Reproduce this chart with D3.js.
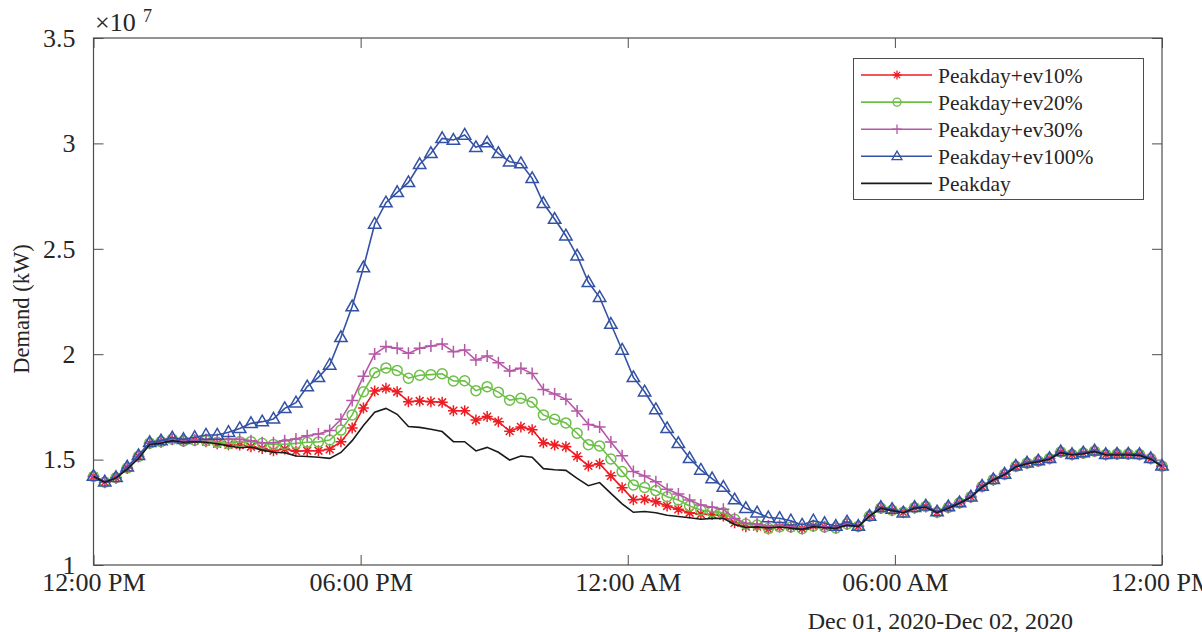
<!DOCTYPE html>
<html>
<head>
<meta charset="utf-8">
<script src="https://cdn.jsdelivr.net/npm/d3@7"></script>
<style>
  body { margin: 0; background: #fff; }
  svg text { font-family: "Liberation Serif", "Times New Roman", serif; fill: #262626; }
</style>
</head>
<body>
<div id="chart"></div>
<script>
// demand, in units of 1e7 kW, 96 samples from 12:00 PM Dec 01 to 12:00 PM Dec 02
var ev10 = [1.420, 1.393, 1.414, 1.460, 1.515, 1.578, 1.585, 1.597, 1.588, 1.592,
  1.585, 1.575, 1.570, 1.569, 1.561, 1.553, 1.542, 1.550, 1.540, 1.542,
  1.542, 1.549, 1.585, 1.650, 1.745, 1.825, 1.838, 1.822, 1.775, 1.778,
  1.775, 1.772, 1.732, 1.732, 1.688, 1.704, 1.680, 1.635, 1.655, 1.642,
  1.580, 1.569, 1.561, 1.515, 1.470, 1.480, 1.423, 1.367, 1.310, 1.312,
  1.300, 1.280, 1.264, 1.248, 1.241, 1.240, 1.233, 1.200, 1.182, 1.182,
  1.171, 1.180, 1.180, 1.172, 1.185, 1.180, 1.176, 1.195, 1.183, 1.232,
  1.270, 1.260, 1.250, 1.272, 1.278, 1.250, 1.273, 1.295, 1.323, 1.372,
  1.405, 1.430, 1.468, 1.483, 1.493, 1.505, 1.536, 1.524, 1.531, 1.540,
  1.524, 1.526, 1.526, 1.524, 1.505, 1.469];

var ev20 = [1.420, 1.393, 1.414, 1.460, 1.515, 1.578, 1.585, 1.597, 1.588, 1.592,
  1.590, 1.582, 1.577, 1.585, 1.585, 1.577, 1.572, 1.573, 1.577, 1.582,
  1.584, 1.593, 1.640, 1.712, 1.822, 1.912, 1.935, 1.923, 1.886, 1.900,
  1.903, 1.907, 1.873, 1.874, 1.827, 1.846, 1.820, 1.782, 1.791, 1.772,
  1.712, 1.691, 1.674, 1.625, 1.571, 1.565, 1.503, 1.443, 1.380, 1.368,
  1.353, 1.324, 1.308, 1.280, 1.261, 1.253, 1.248, 1.217, 1.194, 1.190,
  1.174, 1.182, 1.180, 1.172, 1.185, 1.180, 1.176, 1.195, 1.183, 1.232,
  1.270, 1.260, 1.250, 1.272, 1.278, 1.250, 1.273, 1.295, 1.323, 1.372,
  1.405, 1.430, 1.468, 1.483, 1.493, 1.505, 1.536, 1.524, 1.531, 1.540,
  1.524, 1.526, 1.526, 1.524, 1.505, 1.469];

var ev30 = [1.420, 1.393, 1.414, 1.460, 1.515, 1.578, 1.585, 1.597, 1.588, 1.592,
  1.595, 1.595, 1.596, 1.596, 1.590, 1.580, 1.580, 1.590, 1.598, 1.613,
  1.621, 1.638, 1.691, 1.780, 1.895, 2.001, 2.036, 2.028, 2.004, 2.028,
  2.039, 2.048, 2.012, 2.020, 1.972, 1.991, 1.960, 1.920, 1.933, 1.908,
  1.833, 1.811, 1.786, 1.730, 1.667, 1.655, 1.583, 1.518, 1.443, 1.422,
  1.395, 1.359, 1.337, 1.308, 1.285, 1.274, 1.264, 1.221, 1.198, 1.194,
  1.185, 1.188, 1.182, 1.174, 1.187, 1.182, 1.178, 1.196, 1.184, 1.232,
  1.270, 1.260, 1.250, 1.272, 1.278, 1.250, 1.273, 1.295, 1.323, 1.372,
  1.405, 1.430, 1.468, 1.483, 1.493, 1.505, 1.536, 1.524, 1.531, 1.540,
  1.524, 1.526, 1.526, 1.524, 1.505, 1.469];

var ev100 = [1.422, 1.395, 1.416, 1.466, 1.520, 1.582, 1.590, 1.604, 1.596, 1.606,
  1.617, 1.617, 1.630, 1.648, 1.672, 1.680, 1.693, 1.743, 1.770, 1.846,
  1.890, 1.949, 2.080, 2.226, 2.411, 2.618, 2.719, 2.768, 2.815, 2.901,
  2.953, 3.024, 3.016, 3.040, 2.981, 3.004, 2.953, 2.913, 2.905, 2.834,
  2.716, 2.641, 2.562, 2.467, 2.341, 2.270, 2.143, 2.020, 1.890, 1.822,
  1.738, 1.648, 1.577, 1.506, 1.451, 1.410, 1.370, 1.310, 1.269, 1.248,
  1.225, 1.222, 1.210, 1.190, 1.210, 1.198, 1.185, 1.205, 1.185, 1.232,
  1.274, 1.265, 1.248, 1.274, 1.281, 1.253, 1.277, 1.296, 1.324, 1.375,
  1.406, 1.432, 1.470, 1.485, 1.495, 1.506, 1.538, 1.525, 1.533, 1.542,
  1.525, 1.527, 1.527, 1.525, 1.506, 1.470];

var peakday = [1.420, 1.392, 1.412, 1.455, 1.505, 1.572, 1.578, 1.590, 1.582, 1.585,
  1.582, 1.575, 1.565, 1.556, 1.560, 1.545, 1.535, 1.533, 1.517, 1.515,
  1.511, 1.506, 1.534, 1.590, 1.662, 1.725, 1.743, 1.715, 1.657, 1.653,
  1.644, 1.633, 1.585, 1.585, 1.541, 1.558, 1.535, 1.498, 1.517, 1.511,
  1.457, 1.452, 1.449, 1.411, 1.376, 1.391, 1.340, 1.290, 1.250, 1.254,
  1.248, 1.236, 1.230, 1.224, 1.217, 1.221, 1.221, 1.192, 1.178, 1.181,
  1.176, 1.180, 1.175, 1.169, 1.182, 1.177, 1.174, 1.190, 1.182, 1.232,
  1.269, 1.258, 1.248, 1.269, 1.274, 1.248, 1.269, 1.293, 1.321, 1.368,
  1.403, 1.428, 1.465, 1.480, 1.490, 1.502, 1.533, 1.522, 1.528, 1.538,
  1.522, 1.522, 1.522, 1.520, 1.502, 1.468];

var seriesNames = ["Peakday+ev10%", "Peakday+ev20%", "Peakday+ev30%", "Peakday+ev100%", "Peakday"];
var yTicks = [1, 1.5, 2, 2.5, 3, 3.5];
var xTickTimes = ["2020-12-01T12:00", "2020-12-01T18:00", "2020-12-02T00:00", "2020-12-02T06:00", "2020-12-02T12:00"];
var dateLabel = "Dec 01, 2020-Dec 02, 2020";
var yLabel = "Demand (kW)";

var svgWidth = 1202;
var svgHeight = 632;
var margin = { top: 38, right: 40, bottom: 67, left: 93.5 };
var width = svgWidth - margin.left - margin.right;
var height = svgHeight - margin.top - margin.bottom;

var svg = d3.select("#chart")
  .append("svg")
  .attr("width", svgWidth)
  .attr("height", svgHeight);

var chartGroup = svg.append("g")
  .attr("transform", `translate(${margin.left}, ${margin.top})`);

// scales
var parseTime = d3.timeParse("%Y-%m-%dT%H:%M");
var tickDates = xTickTimes.map(parseTime);

var xTime = d3.scaleTime()
  .domain([tickDates[0], tickDates[tickDates.length - 1]])
  .range([0, width]);

var xIndex = d3.scalePoint()
  .domain(d3.range(peakday.length))
  .range([0, width]);

var yLinearScale = d3.scaleLinear()
  .domain([1, 3.5])
  .range([height, 0]);

// axes (ticks inside, like a boxed matlab plot)
var axisColor = "#4d4d4d";
var fontFamily = '"Liberation Serif", "Times New Roman", serif';
var tickFont = 26;

var bottomAxis = d3.axisBottom(xTime)
  .tickValues(tickDates)
  .tickFormat(d3.timeFormat("%I:%M %p"))
  .tickSizeInner(-10).tickSizeOuter(0).tickPadding(8);
var topAxis = d3.axisTop(xTime)
  .tickValues(tickDates).tickFormat("")
  .tickSizeInner(-10).tickSizeOuter(0);
var leftAxis = d3.axisLeft(yLinearScale)
  .tickValues(yTicks)
  .tickFormat(d3.format("~g"))
  .tickSizeInner(-10).tickSizeOuter(0).tickPadding(18);
var rightAxis = d3.axisRight(yLinearScale)
  .tickValues(yTicks).tickFormat("")
  .tickSizeInner(-10).tickSizeOuter(0);

function styleAxis(g) {
  g.attr("font-family", fontFamily).attr("font-size", tickFont);
  g.select(".domain").remove();
  g.selectAll(".tick line").attr("stroke", axisColor);
  g.selectAll(".tick text").attr("fill", "#262626");
}

chartGroup.append("g").attr("transform", `translate(0, ${height})`).call(bottomAxis).call(styleAxis);
chartGroup.append("g").call(topAxis).call(styleAxis);
chartGroup.append("g").call(leftAxis).call(styleAxis);
chartGroup.append("g").attr("transform", `translate(${width}, 0)`).call(rightAxis).call(styleAxis);

chartGroup.append("rect")
  .attr("width", width)
  .attr("height", height)
  .attr("fill", "none")
  .attr("stroke", axisColor)
  .attr("stroke-width", 1.2);

// marker shapes
var starPath = "M-5.5,0H5.5M0,-5.5V5.5M-3.9,-3.9L3.9,3.9M-3.9,3.9L3.9,-3.9";
var plusPath = "M-6,0H6M0,-6V6";
var triPath = "M0,-6.5L6.2,4.2L-6.2,4.2Z";
var circlePath = "M5,0A5,5 0 1,1 -5,0A5,5 0 1,1 5,0Z";

var series = [
  { name: seriesNames[0], values: ev10, color: "#ee1d23", marker: starPath },
  { name: seriesNames[1], values: ev20, color: "#6cbf47", marker: circlePath },
  { name: seriesNames[2], values: ev30, color: "#b757a8", marker: plusPath },
  { name: seriesNames[3], values: ev100, color: "#3352a5", marker: triPath },
  { name: seriesNames[4], values: peakday, color: "#1a1a1a", marker: null }
];

var line = d3.line()
  .x((d, i) => xIndex(i))
  .y(d => yLinearScale(d));

series.forEach(function(s) {
  var g = chartGroup.append("g");
  g.append("path")
    .datum(s.values)
    .attr("d", line)
    .attr("fill", "none")
    .attr("stroke", s.color)
    .attr("stroke-width", 1.6);

  if (s.marker) {
    g.selectAll("path.mark")
      .data(s.values)
      .enter()
      .append("path")
      .attr("class", "mark")
      .attr("d", s.marker)
      .attr("transform", (d, i) => `translate(${xIndex(i)}, ${yLinearScale(d)})`)
      .attr("fill", "none")
      .attr("stroke", s.color)
      .attr("stroke-width", 1.5);
  }
});

// exponent label
svg.append("text")
  .attr("x", 95)
  .attr("y", 31)
  .attr("font-size", 26)
  .text("\u00d710");
svg.append("text")
  .attr("x", 143)
  .attr("y", 22)
  .attr("font-size", 18)
  .text("7");

// axis labels
svg.append("text")
  .attr("transform", "translate(29, 309) rotate(-90)")
  .attr("text-anchor", "middle")
  .attr("font-size", 22.5)
  .text(yLabel);

svg.append("text")
  .attr("x", 1073)
  .attr("y", 629)
  .attr("text-anchor", "end")
  .attr("font-size", 24)
  .text(dateLabel);

// legend
var legend = svg.append("g");
legend.append("rect")
  .attr("x", 853.5)
  .attr("y", 58.5)
  .attr("width", 290)
  .attr("height", 141)
  .attr("fill", "#fff")
  .attr("stroke", axisColor)
  .attr("stroke-width", 1);

var legendRows = legend.selectAll("g.row")
  .data(series)
  .enter()
  .append("g")
  .attr("class", "row")
  .attr("transform", (d, i) => `translate(0, ${75 + i * 27.1})`);

legendRows.append("line")
  .attr("x1", 861).attr("x2", 932)
  .attr("stroke", d => d.color)
  .attr("stroke-width", 1.6);

legendRows.filter(d => d.marker)
  .append("path")
  .attr("d", d => d.marker)
  .attr("transform", "translate(897, 0) scale(0.8)")
  .attr("fill", "none")
  .attr("stroke", d => d.color)
  .attr("stroke-width", 1.6);

legendRows.append("text")
  .attr("x", 938)
  .attr("dy", "0.35em")
  .attr("font-size", 21.5)
  .text(d => d.name);
</script>
</body>
</html>
